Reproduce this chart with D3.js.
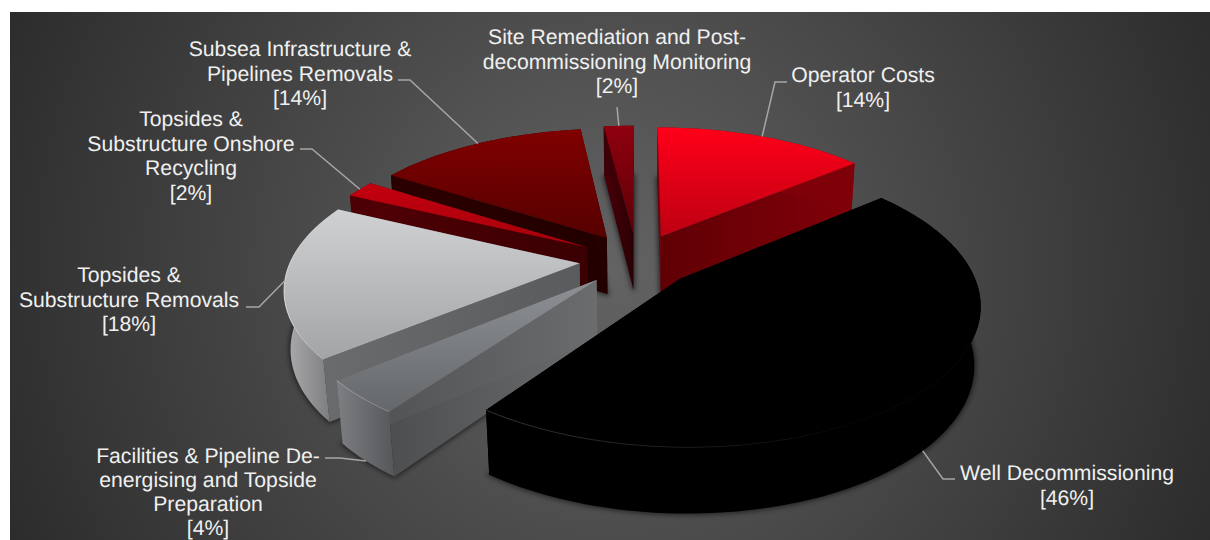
<!DOCTYPE html>
<html>
<head>
<meta charset="utf-8">
<script src="https://cdn.jsdelivr.net/npm/d3@7"></script>
<style>
  html, body { margin: 0; padding: 0; background: #fff; }
  svg { display: block; }
  text { font-family: "Liberation Sans", Arial, sans-serif; font-size: 21.2px; fill: #f0f0f0; text-rendering: geometricPrecision; }
</style>
</head>
<body>
<svg id="chart" width="1210" height="540"></svg>
<script>
// Decommissioning cost breakdown, clockwise from twelve o'clock.
const categories = [
  "Operator Costs",
  "Well Decommissioning",
  "Facilities & Pipeline De-energising and Topside Preparation",
  "Topsides & Substructure Removals",
  "Topsides & Substructure Onshore Recycling",
  "Subsea Infrastructure & Pipelines Removals",
  "Site Remediation and Post-decommissioning Monitoring"
];
const shares = [14, 46, 4, 18, 2, 14, 2];
const labelLines = [
  ["Operator Costs", "[14%]"],
  ["Well Decommissioning", "[46%]"],
  ["Facilities & Pipeline De-", "energising and Topside", "Preparation", "[4%]"],
  ["Topsides &", "Substructure Removals", "[18%]"],
  ["Topsides &", "Substructure Onshore", "Recycling", "[2%]"],
  ["Subsea Infrastructure &", "Pipelines Removals", "[14%]"],
  ["Site Remediation and Post-", "decommissioning Monitoring", "[2%]"]
];

// Styling per slice: top face gradient, rim gradient, cut-face gradient, bevel.
const faceStyles = [
  { top: ["#ff0019", "#bd0012"], rim: ["#7e0008", "#7e0008"], cut: ["#5f0005", "#820009"] },
  { top: ["#000000", "#000000"], rim: ["#000000", "#000000"], cut: ["#000000", "#000000"], edge: "#3a3a3a", edgeFrom: 0.62 },
  { top: ["#8d9195", "#65686b"], rim: ["#7d7f83", "#55575a"], cut: ["#4d4e50", "#6a6c6e"], edge: "#a5a7a9", edgeFrom: 0 },
  { top: ["#d0d1d3", "#a3a4a6"], rim: ["#adadaf", "#6f7072"], cut: ["#6a6b6d", "#5a5b5d"], edge: "#dcdcde", edgeFrom: 0 },
  { top: ["#c4000f", "#a5000b"], rim: ["#4c0005", "#4c0005"], cut: ["#4f0005", "#3a0003"] },
  { top: ["#800000", "#560000"], rim: ["#2a0000", "#2a0000"], cut: ["#2b0000", "#220000"] },
  { top: ["#8f000e", "#5c0008"], rim: ["#3d0006", "#3d0006"], cut: ["#4a0008", "#2a0004"] }
];

// Leader elbows and label anchors, in page pixels.
const labelLayout = [
  { x: 863, y: 82, leading: 24.6, elbow: [[775, 82], [787, 82]] },
  { x: 1067, y: 480, leading: 24.6, elbow: [[943, 479], [955, 479]] },
  { x: 208, y: 463, leading: 24, elbow: [[340, 458], [325, 458]] },
  { x: 129, y: 282, leading: 24.6, elbow: [[259, 307], [246, 307]] },
  { x: 191, y: 126, leading: 24.6, elbow: [[312, 149], [300, 149]] },
  { x: 300, y: 56, leading: 24.6, elbow: [[410, 80], [398, 80]] },
  { x: 617, y: 44, leading: 24.6, elbow: [[617, 107], [617, 107]] }
];

const width = 1210, height = 540;
const svg = d3.select("#chart");
const defs = svg.append("defs");

// Backdrop
const bg = defs.append("radialGradient").attr("id", "bg")
  .attr("gradientUnits", "userSpaceOnUse")
  .attr("cx", 610).attr("cy", 270).attr("r", 680);
bg.append("stop").attr("offset", 0).attr("stop-color", "#636363");
bg.append("stop").attr("offset", 1).attr("stop-color", "#2a2a2a");
svg.append("rect").attr("x", 10).attr("y", 12).attr("width", width - 10).attr("height", height - 12).attr("fill", "url(#bg)");

const blur = defs.append("filter").attr("id", "soft")
  .attr("x", "-20%").attr("y", "-20%").attr("width", "140%").attr("height", "140%");
blur.append("feGaussianBlur").attr("stdDeviation", 2.5);

// Pie layout: angles come straight from the shares.
const arcs = d3.pie().sort(null).value(d => d)(shares);

// Perspective view of the tilted disc. (u, v) are disc coordinates with radius 1,
// v pointing towards the viewer; z = 1 is the underside of the disc.
const view = { cx: 637, cy: 260, a: 288.5, b: 134, p: 0.164, h: 58.5, q: 0.018 };
const explode = 0.2;
function project(u, v, z) {
  const w = 1 - view.p * v + view.q * z;
  return [view.cx + view.a * u / w, view.cy + (view.b * v + view.h * z) / w];
}

const pathOf = pts => "M" + pts.map(p => p[0].toFixed(2) + "," + p[1].toFixed(2)).join("L") + "Z";

const slices = arcs.map((arc, i) => {
  const mid = (arc.startAngle + arc.endAngle) / 2;
  const ox = explode * Math.sin(mid), oy = -explode * Math.cos(mid);
  const steps = d3.range(0, 1.0001, 1 / Math.max(8, Math.ceil((arc.endAngle - arc.startAngle) * 40)));
  const rim = steps.map(t => {
    const a = arc.startAngle + t * (arc.endAngle - arc.startAngle);
    return [ox + Math.sin(a), oy - Math.cos(a)];
  });
  return { i, arc, mid, ox, oy, rim };
});

function gradient(id, colors, horizontal) {
  const g = defs.append("linearGradient").attr("id", id)
    .attr("x1", 0).attr("y1", 0).attr("x2", horizontal ? 1 : 0).attr("y2", horizontal ? 0 : 1);
  g.append("stop").attr("offset", 0).attr("stop-color", colors[0]);
  g.append("stop").attr("offset", 1).attr("stop-color", colors[1]);
  return g;
}

// Back slices first, nearer slices painted over them.
const paintOrder = [6, 0, 5, 4, 3, 2, 1];
const plot = svg.append("g");

paintOrder.forEach(i => {
  const s = slices[i], st = faceStyles[i];
  gradient("top" + i, st.top, false);
  gradient("rim" + i, st.rim, true);
  gradient("cut" + i, st.cut, true);
  const g = plot.append("g");

  const apex = [s.ox, s.oy];
  const footprint = [apex, ...s.rim];

  // Soft contact shadow under the slice
  g.append("path")
    .attr("d", pathOf(footprint.map(p => project(p[0], p[1], 1))))
    .attr("fill", "#000").attr("opacity", 0.55)
    .attr("stroke", "#000").attr("stroke-width", 3)
    .attr("filter", "url(#soft)");

  // Two cut faces
  const first = s.rim[0], last = s.rim[s.rim.length - 1];
  [first, last].forEach(end => {
    g.append("path")
      .attr("d", pathOf([project(apex[0], apex[1], 0), project(end[0], end[1], 0), project(end[0], end[1], 1), project(apex[0], apex[1], 1)]))
      .attr("fill", `url(#cut${i})`);
  });

  // Outer rim wall
  g.append("path")
    .attr("d", pathOf([...s.rim.map(p => project(p[0], p[1], 0)), ...s.rim.slice().reverse().map(p => project(p[0], p[1], 1))]))
    .attr("fill", `url(#rim${i})`);

  // Top face
  g.append("path")
    .attr("d", pathOf(footprint.map(p => project(p[0], p[1], 0))))
    .attr("fill", `url(#top${i})`);

  // Bevel highlight along the outer edge, fading out towards the right
  if (st.edge) {
    const fade = defs.append("linearGradient").attr("id", "edge" + i).attr("x1", 0).attr("y1", 0).attr("x2", 1).attr("y2", 0);
    fade.append("stop").attr("offset", 0).attr("stop-color", st.edge).attr("stop-opacity", 0.9);
    fade.append("stop").attr("offset", 1).attr("stop-color", st.edge).attr("stop-opacity", i === 1 ? 0 : 0.5);
    const from = Math.floor(s.rim.length * st.edgeFrom);
    g.append("path")
      .attr("d", d3.line()(s.rim.slice(from).map(p => project(p[0], p[1], 0))))
      .attr("fill", "none").attr("stroke", `url(#edge${i})`).attr("stroke-width", 1);
  }
});

// Leaders and labels
const leaders = svg.append("g");
const labels = svg.append("g");

labelLayout.forEach((lay, i) => {
  const s = slices[i];
  const u = s.ox + Math.sin(s.mid), v = s.oy - Math.cos(s.mid);
  const start = project(u, v, (i === 1 || i === 2) ? 1 : 0);
  leaders.append("path")
    .attr("d", d3.line()([start, ...lay.elbow]))
    .attr("fill", "none").attr("stroke", "#a6a6a6").attr("stroke-width", 1.5);

  const t = labels.append("text").attr("text-anchor", "middle");
  labelLines[i].forEach((line, j) => {
    t.append("tspan").attr("x", lay.x).attr("y", lay.y + j * lay.leading).text(line);
  });
});
</script>
</body>
</html>
